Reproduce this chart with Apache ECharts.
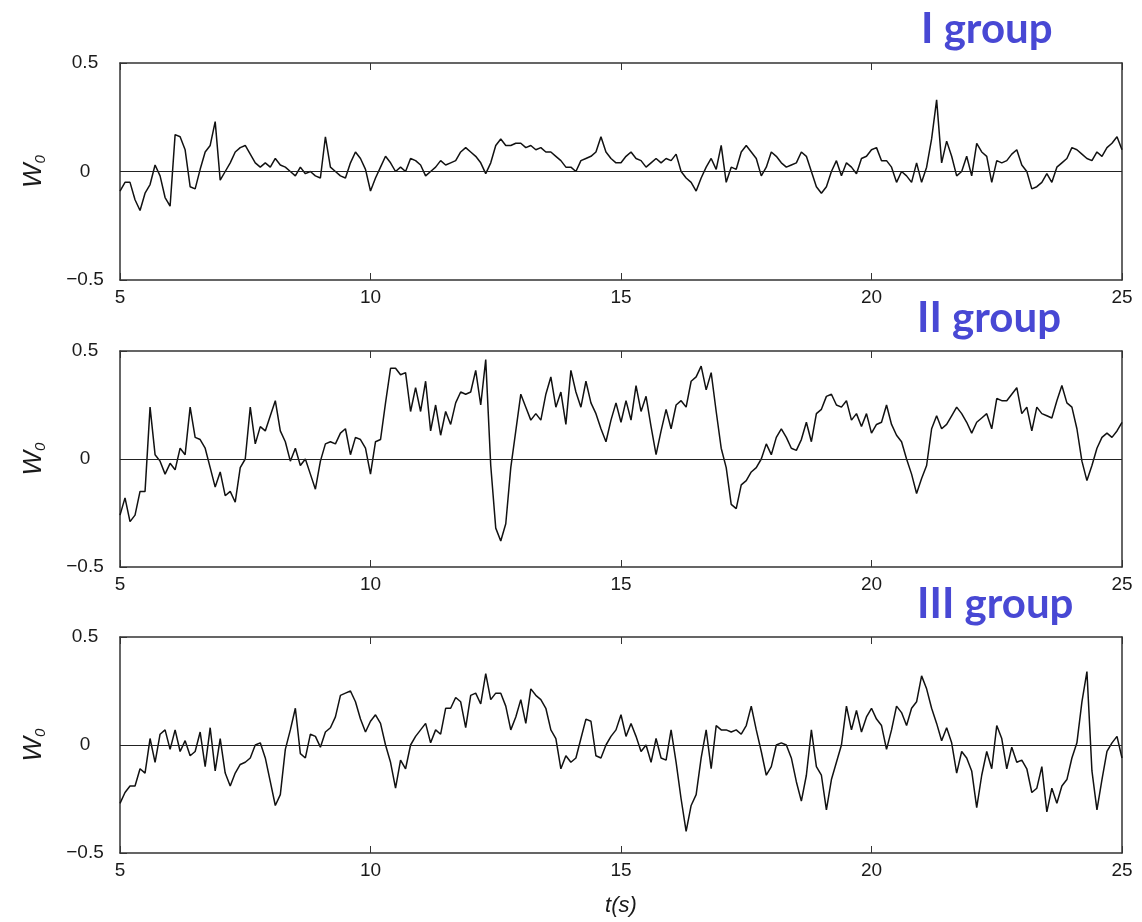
<!DOCTYPE html>
<html><head><meta charset="utf-8">
<script src="https://cdn.jsdelivr.net/npm/echarts@6/dist/echarts.min.js"></script>
<style>html,body{margin:0;padding:0;background:#fff}#c{width:1142px;height:922px}</style>
</head><body><div id="c"></div>
<script>
// sampling grid of the traces (seconds)
const tStart = 5, tStep = 0.1;
// W0 values, t = 5.0 ... 25.0 s
const groupI = [
 -0.09,-0.05,-0.05,-0.13,-0.18,-0.10,-0.06,0.03,-0.02,-0.12,
 -0.16,0.17,0.16,0.10,-0.07,-0.08,0.01,0.09,0.12,0.23,
 -0.04,0.00,0.04,0.09,0.11,0.12,0.08,0.04,0.02,0.04,
 0.02,0.06,0.03,0.02,0.00,-0.02,0.02,-0.01,0.00,-0.02,
 -0.03,0.16,0.02,0.00,-0.02,-0.03,0.04,0.09,0.06,0.01,
 -0.09,-0.03,0.02,0.07,0.04,0.00,0.02,0.00,0.06,0.05,
 0.03,-0.02,0.00,0.02,0.05,0.03,0.04,0.05,0.09,0.11,
 0.09,0.07,0.04,-0.01,0.04,0.12,0.15,0.12,0.12,0.13,
 0.13,0.11,0.12,0.10,0.11,0.09,0.09,0.07,0.05,0.02,
 0.02,0.00,0.05,0.06,0.07,0.09,0.16,0.09,0.06,0.04,
 0.04,0.07,0.09,0.06,0.05,0.02,0.04,0.06,0.04,0.06,
 0.05,0.08,0.00,-0.03,-0.05,-0.09,-0.03,0.02,0.06,0.01,
 0.12,-0.05,0.02,0.01,0.09,0.12,0.09,0.06,-0.02,0.02,
 0.09,0.07,0.04,0.02,0.03,0.04,0.09,0.07,0.00,-0.07,
 -0.10,-0.07,0.00,0.05,-0.02,0.04,0.02,-0.01,0.06,0.07,
 0.10,0.11,0.05,0.05,0.02,-0.05,0.00,-0.02,-0.05,0.04,
 -0.05,0.02,0.15,0.33,0.04,0.14,0.07,-0.02,0.00,0.07,
 -0.02,0.13,0.09,0.07,-0.05,0.05,0.04,0.05,0.08,0.10,
 0.03,0.00,-0.08,-0.07,-0.05,-0.01,-0.05,0.02,0.04,0.06,
 0.11,0.10,0.08,0.06,0.05,0.09,0.07,0.11,0.13,0.16,
 0.10
];
const groupII = [
 -0.26,-0.18,-0.29,-0.26,-0.15,-0.15,0.24,0.02,-0.01,-0.07,
 -0.02,-0.05,0.05,0.02,0.24,0.10,0.09,0.05,-0.04,-0.13,
 -0.06,-0.17,-0.15,-0.20,-0.04,0.00,0.24,0.07,0.15,0.13,
 0.20,0.27,0.13,0.08,-0.01,0.05,-0.03,0.00,-0.07,-0.14,
 -0.01,0.07,0.08,0.07,0.12,0.14,0.02,0.10,0.09,0.05,
 -0.07,0.08,0.09,0.26,0.42,0.42,0.39,0.40,0.22,0.33,
 0.22,0.36,0.13,0.25,0.11,0.22,0.16,0.26,0.31,0.30,
 0.31,0.41,0.25,0.46,-0.03,-0.32,-0.38,-0.30,-0.04,0.13,
 0.30,0.24,0.18,0.21,0.18,0.30,0.38,0.24,0.31,0.16,
 0.41,0.31,0.24,0.36,0.26,0.21,0.14,0.08,0.18,0.26,
 0.17,0.27,0.18,0.34,0.22,0.29,0.15,0.02,0.13,0.23,
 0.14,0.25,0.27,0.24,0.36,0.38,0.43,0.32,0.40,0.22,
 0.05,-0.04,-0.21,-0.23,-0.12,-0.10,-0.06,-0.04,0.00,0.07,
 0.02,0.10,0.14,0.10,0.05,0.04,0.09,0.17,0.08,0.21,
 0.23,0.29,0.30,0.25,0.24,0.27,0.18,0.21,0.15,0.21,
 0.12,0.16,0.17,0.25,0.16,0.11,0.08,0.00,-0.07,-0.16,
 -0.09,-0.03,0.14,0.20,0.14,0.16,0.20,0.24,0.21,0.17,
 0.12,0.17,0.19,0.21,0.14,0.28,0.27,0.27,0.30,0.33,
 0.21,0.24,0.13,0.24,0.21,0.20,0.19,0.27,0.34,0.26,
 0.24,0.14,-0.01,-0.10,-0.03,0.05,0.10,0.12,0.10,0.13,
 0.17
];
const groupIII = [
 -0.27,-0.22,-0.19,-0.19,-0.11,-0.13,0.03,-0.08,0.05,0.07,
 -0.02,0.07,-0.03,0.02,-0.05,-0.03,0.06,-0.10,0.08,-0.12,
 0.03,-0.13,-0.19,-0.13,-0.09,-0.08,-0.06,0.00,0.01,-0.06,
 -0.17,-0.28,-0.23,-0.02,0.07,0.17,-0.04,-0.06,0.05,0.04,
 -0.01,0.06,0.08,0.13,0.23,0.24,0.25,0.20,0.12,0.06,
 0.11,0.14,0.10,0.00,-0.08,-0.20,-0.07,-0.11,0.00,0.04,
 0.07,0.10,0.01,0.07,0.05,0.17,0.17,0.22,0.20,0.08,
 0.23,0.24,0.19,0.33,0.21,0.24,0.24,0.18,0.07,0.13,
 0.21,0.10,0.26,0.23,0.21,0.17,0.07,0.03,-0.11,-0.05,
 -0.08,-0.06,0.03,0.12,0.11,-0.05,-0.06,0.00,0.04,0.07,
 0.14,0.04,0.10,0.04,-0.03,0.00,-0.08,0.03,-0.06,-0.07,
 0.07,-0.08,-0.25,-0.40,-0.28,-0.23,-0.06,0.07,-0.11,0.09,
 0.07,0.07,0.06,0.07,0.05,0.09,0.18,0.07,-0.03,-0.14,
 -0.10,0.00,0.01,0.00,-0.06,-0.17,-0.26,-0.14,0.07,-0.10,
 -0.14,-0.30,-0.16,-0.08,0.00,0.18,0.07,0.16,0.06,0.13,
 0.17,0.12,0.09,-0.02,0.07,0.18,0.15,0.09,0.17,0.20,
 0.32,0.26,0.17,0.10,0.02,0.08,0.01,-0.13,-0.03,-0.06,
 -0.12,-0.29,-0.14,-0.03,-0.11,0.09,0.03,-0.11,-0.01,-0.08,
 -0.07,-0.11,-0.22,-0.20,-0.10,-0.31,-0.20,-0.27,-0.19,-0.16,
 -0.06,0.01,0.20,0.34,-0.12,-0.30,-0.16,-0.03,0.01,0.04,
 -0.06
];
const panelTitles = ['I group', 'II group', 'III group'];
const xMin = 5, xMax = 25, xInterval = 5;
const yMin = -0.5, yMax = 0.5, yInterval = 0.5;
const xName = 't(s)';

const seriesData = [groupI, groupII, groupIII];
const gridBoxes = [
  {left: 120, top: 63, width: 1002, height: 217},
  {left: 120, top: 351, width: 1002, height: 216},
  {left: 120, top: 637, width: 1002, height: 216}
];
const titleTops = [8, 297, 583];
const titleLefts = [921, 917, 917];

const axisLine = {show: true, onZero: false, lineStyle: {color: '#333', width: 1.5}};
const tick = {show: true, inside: true, length: 7, lineStyle: {color: '#333', width: 1}};
const fontFam = '"Liberation Sans", Arial, sans-serif';

const xAxes = [], yAxes = [], series = [], titles = [];
gridBoxes.forEach((g, i) => {
  xAxes.push({
    type: 'value', gridIndex: i, min: xMin, max: xMax, interval: xInterval, position: 'bottom',
    axisLine, axisTick: tick, splitLine: {show: false},
    axisLabel: {fontSize: 19, color: '#1a1a1a', fontFamily: fontFam, margin: 8},
    name: i === 2 ? xName : '', nameLocation: 'middle', nameGap: 42,
    nameTextStyle: {fontSize: 22, fontStyle: 'italic', color: '#1a1a1a', fontFamily: fontFam}
  });
  xAxes.push({
    type: 'value', gridIndex: i, min: xMin, max: xMax, interval: xInterval, position: 'top',
    axisLine, axisTick: tick, splitLine: {show: false}, axisLabel: {show: false}
  });
  yAxes.push({
    type: 'value', gridIndex: i, min: yMin, max: yMax, interval: yInterval, position: 'left',
    axisLine, axisTick: tick, splitLine: {show: false},
    axisLabel: {fontSize: 19, color: '#1a1a1a', fontFamily: fontFam, margin: 35, align: 'center',
      formatter: v => (v < 0 ? '\u2212' + String(-v) : String(v))},
    name: '{w|W}{s|0}', nameLocation: 'middle', nameRotate: 90, nameGap: 72,
    nameTextStyle: {rich: {
      w: {fontSize: 26, fontStyle: 'italic', color: '#1a1a1a', fontFamily: fontFam, lineHeight: 28},
      s: {fontSize: 15, fontStyle: 'italic', color: '#1a1a1a', fontFamily: fontFam, lineHeight: 15, verticalAlign: 'bottom'}
    }}
  });
  yAxes.push({
    type: 'value', gridIndex: i, min: yMin, max: yMax, interval: yInterval, position: 'right',
    axisLine, axisTick: {show: false}, splitLine: {show: false}, axisLabel: {show: false}
  });
  series.push({
    type: 'line', xAxisIndex: 2 * i, yAxisIndex: 2 * i, showSymbol: false, symbol: 'none',
    data: seriesData[i].map((v, k) => [tStart + k * tStep, v]),
    lineStyle: {color: '#111', width: 1.5},
    markLine: {silent: true, symbol: 'none', label: {show: false},
      lineStyle: {color: '#222', width: 1, type: 'solid'}, data: [{yAxis: 0}]},
    animation: false
  });
  titles.push({
    text: panelTitles[i], left: titleLefts[i], top: titleTops[i], padding: 0,
    textStyle: {fontSize: 42, fontWeight: 'bold', color: '#4848d4', fontFamily: 'Lato, "Open Sans", sans-serif'}
  });
});

const chart = echarts.init(document.getElementById('c'), null, {renderer: 'canvas'});
chart.setOption({
  backgroundColor: '#fff',
  animation: false,
  title: titles,
  grid: gridBoxes.map(g => Object.assign({containLabel: false}, g)),
  xAxis: xAxes,
  yAxis: yAxes,
  series
});
</script></body></html>
